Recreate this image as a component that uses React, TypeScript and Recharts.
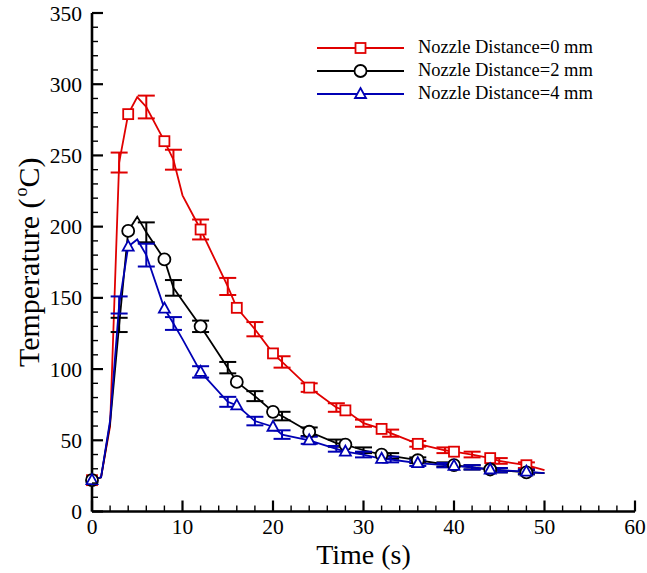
import React from 'react';
import { ComposedChart, Line, XAxis, YAxis, ErrorBar, Legend } from 'recharts';

// ---- data ----
const times = [0, 1, 2, 3, 4, 5, 6, 8, 9, 10, 12, 15, 16, 18, 20, 21, 24, 27, 28, 30, 32, 33, 36, 39, 40, 42, 44, 45, 48, 50];
const temp0mm = [22, 24, 60, 245, 279, 291, 284, 260, 247, 222, 198, 158, 143, 128, 111, 105, 87, 73, 71, 62, 58, 55, 47.5, 43, 42, 40, 37.5, 35.5, 32.5, 29];
const temp2mm = [22, 24, 62, 131, 197, 207, 196, 177, 157, 148, 130, 101, 91, 81, 70, 67, 56, 48, 47, 43, 40, 39, 36, 33, 32.5, 31, 29.5, 29, 27.5, 27];
const temp4mm = [22, 24, 64, 145, 186, 191, 180, 142.5, 132, 121, 98, 77, 74.5, 63.5, 59.5, 54, 50, 44, 42, 40, 37, 36.5, 34, 32.5, 32, 31, 29.5, 29, 28, 27];
// error half-ranges (null = no error bar at that time)
const err0mm = [null, null, null, 7, null, null, 8, null, 7, null, 7, 6, null, 5, null, 4, 3, 3, null, 2.5, null, 2.5, 2, 2, null, 2, null, 2, 2, null];
const err2mm = [null, null, null, 5, null, null, 7, null, 5.5, null, 4, 4, null, 3.5, null, 3, 3, 2.5, null, 2, null, 2, 2, 1.5, null, 1.5, null, 1.5, 1.5, null];
const err4mm = [null, null, null, 6, null, null, 8, null, 4.5, null, 4, 3.5, null, 3, null, 3, 2.5, 2, null, 2, null, 2, 2, 1.5, null, 1.5, null, 1.5, 1.5, null];
const markerTimes = [0, 4, 8, 12, 16, 20, 24, 28, 32, 36, 40, 44, 48];

const seriesNames = ['Nozzle Distance=0 mm', 'Nozzle Distance=2 mm', 'Nozzle Distance=4 mm'];

const xMajorTicks = [0, 10, 20, 30, 40, 50, 60];
const yMajorTicks = [0, 50, 100, 150, 200, 250, 300, 350];
const xAllTicks: number[] = [];
for (let v = 0; v <= 60; v += 2) xAllTicks.push(v);
const yAllTicks: number[] = [];
for (let v = 0; v <= 350; v += 10) yAllTicks.push(v);

const data = times.map((t, i) => ({
  t,
  s0: temp0mm[i],
  s2: temp2mm[i],
  s4: temp4mm[i],
  e0: err0mm[i],
  e2: err2mm[i],
  e4: err4mm[i],
}));

// ---- styles ----
const RED = '#e00000';
const BLACK = '#000000';
const BLUE = '#0000b4';
const FONT = "'Liberation Serif', 'Times New Roman', serif";
const X_MARGIN = 7;
const Y_MARGIN = 10;

type Shape = 'square' | 'circle' | 'triangle';

const MarkerShape = ({ cx, cy, shape, color }: { cx: number; cy: number; shape: Shape; color: string }) => {
  if (shape === 'square') {
    return <rect x={cx - 5} y={cy - 5} width={10} height={10} fill="#fff" stroke={color} strokeWidth={1.8} />;
  }
  if (shape === 'circle') {
    return <circle cx={cx} cy={cy} r={6} fill="#fff" stroke={color} strokeWidth={1.8} />;
  }
  return (
    <polygon
      points={`${cx},${cy - 6} ${cx + 5.5},${cy + 4} ${cx - 5.5},${cy + 4}`}
      fill="#fff"
      stroke={color}
      strokeWidth={1.8}
    />
  );
};

const makeDot = (shape: Shape, color: string) => (props: any) => {
  const { cx, cy, payload, index } = props;
  if (cx == null || cy == null || !markerTimes.includes(payload.t)) {
    return <g key={`d-${shape}-${index}`} />;
  }
  return (
    <g key={`d-${shape}-${index}`}>
      <MarkerShape cx={cx} cy={cy} shape={shape} color={color} />
    </g>
  );
};

const XTick = (props: any) => {
  const { x, y, payload } = props;
  const major = xMajorTicks.includes(payload.value);
  const axisY = y - X_MARGIN;
  return (
    <g>
      <line x1={x} x2={x} y1={axisY} y2={axisY - (major ? 11 : 6)} stroke="#000" strokeWidth={major ? 2.2 : 1.4} />
      {major && (
        <text x={x} y={y} dy="0.72em" textAnchor="middle" fontFamily={FONT} fontSize={21.5} fill="#000">
          {payload.value}
        </text>
      )}
    </g>
  );
};

const YTick = (props: any) => {
  const { x, y, payload } = props;
  const major = yMajorTicks.includes(payload.value);
  const axisX = x + Y_MARGIN;
  return (
    <g>
      <line x1={axisX} x2={axisX + (major ? 11 : 6)} y1={y} y2={y} stroke="#000" strokeWidth={major ? 2.2 : 1.4} />
      {major && (
        <text x={x} y={y} dy="0.35em" textAnchor="end" fontFamily={FONT} fontSize={21.5} fill="#000">
          {payload.value}
        </text>
      )}
    </g>
  );
};

const legendShapes: Record<string, Shape> = { s0: 'square', s2: 'circle', s4: 'triangle' };

const LegendContent = (props: any) => {
  const { payload } = props;
  return (
    <div style={{ fontFamily: FONT, fontSize: 18.5, color: '#000' }}>
      {(payload || []).map((entry: any) => (
        <div key={entry.dataKey} style={{ display: 'flex', alignItems: 'center', height: 23 }}>
          <svg width={100} height={16} style={{ display: 'block' }}>
            <line x1={0} x2={87} y1={8} y2={8} stroke={entry.color} strokeWidth={2} />
            <MarkerShape cx={43.5} cy={8} shape={legendShapes[entry.dataKey]} color={entry.color} />
          </svg>
          <span style={{ marginLeft: 1, whiteSpace: 'nowrap' }}>{entry.value}</span>
        </div>
      ))}
    </div>
  );
};

const XTitle = (props: any) => {
  const { viewBox } = props;
  const cx = viewBox.x + viewBox.width / 2;
  return (
    <text x={cx} y={viewBox.y + 52} textAnchor="middle" fontFamily={FONT} fontSize={28} fill="#000">
      Time (s)
    </text>
  );
};

const YTitle = (props: any) => {
  const { viewBox } = props;
  const cx = viewBox.x + 28;
  const cy = viewBox.y + viewBox.height / 2;
  return (
    <text
      x={cx}
      y={cy}
      transform={`rotate(-90 ${cx} ${cy})`}
      textAnchor="middle"
      dy="0.35em"
      fontFamily={FONT}
      fontSize={30}
      fill="#000"
    >
      Temperature (<tspan fontSize={18} dy={-12} dx={2}>o</tspan>
      <tspan dy={12}>C)</tspan>
    </text>
  );
};

export default function App() {
  return (
    <div style={{ position: 'absolute', left: 0, top: 0, background: '#fff' }}>
      <ComposedChart width={647} height={573} data={data} margin={{ top: 13, right: 12, bottom: 0, left: 0 }}>
        <XAxis
          dataKey="t"
          type="number"
          domain={[0, 60]}
          ticks={xAllTicks}
          interval={0}
          tickSize={0}
          tickMargin={X_MARGIN}
          tick={<XTick />}
          tickLine={false}
          axisLine={{ stroke: '#000', strokeWidth: 2.6 }}
          height={61.5}
          label={<XTitle />}
        />
        <XAxis
          xAxisId="top"
          orientation="top"
          type="number"
          domain={[0, 60]}
          tick={false}
          tickLine={false}
          axisLine={{ stroke: '#000', strokeWidth: 2.6 }}
          height={0}
        />
        <YAxis
          type="number"
          domain={[0, 350]}
          ticks={yAllTicks}
          interval={0}
          tickSize={0}
          tickMargin={Y_MARGIN}
          tick={<YTick />}
          tickLine={false}
          axisLine={{ stroke: '#000', strokeWidth: 2.6 }}
          width={92}
          label={<YTitle />}
        />
        <YAxis
          yAxisId="right"
          orientation="right"
          type="number"
          domain={[0, 350]}
          tick={false}
          tickLine={false}
          axisLine={{ stroke: '#000', strokeWidth: 2.6 }}
          width={0}
        />
        <Legend
          verticalAlign="middle"
          align="center"
          layout="vertical"
          content={<LegendContent />}
          wrapperStyle={{ position: 'absolute', left: 317, top: 36, width: 300, height: 70 }}
        />
        <Line
          dataKey="s0"
          name={seriesNames[0]}
          stroke={RED}
          strokeWidth={1.8}
          type="linear"
          dot={makeDot('square', RED)}
          activeDot={false}
          isAnimationActive={false}
        >
          <ErrorBar dataKey="e0" width={8.5} stroke={RED} strokeWidth={2} direction="y" isAnimationActive={false} />
        </Line>
        <Line
          dataKey="s2"
          name={seriesNames[1]}
          stroke={BLACK}
          strokeWidth={1.8}
          type="linear"
          dot={makeDot('circle', BLACK)}
          activeDot={false}
          isAnimationActive={false}
        >
          <ErrorBar dataKey="e2" width={8.5} stroke={BLACK} strokeWidth={2} direction="y" isAnimationActive={false} />
        </Line>
        <Line
          dataKey="s4"
          name={seriesNames[2]}
          stroke={BLUE}
          strokeWidth={1.8}
          type="linear"
          dot={makeDot('triangle', BLUE)}
          activeDot={false}
          isAnimationActive={false}
        >
          <ErrorBar dataKey="e4" width={8.5} stroke={BLUE} strokeWidth={2} direction="y" isAnimationActive={false} />
        </Line>
      </ComposedChart>
    </div>
  );
}
